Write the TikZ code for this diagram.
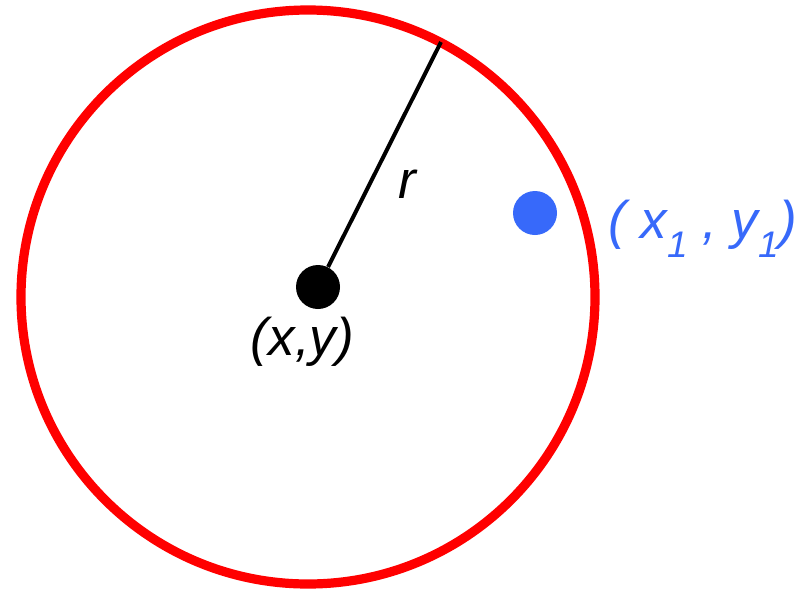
\documentclass[tikz,border=0pt]{standalone}
\usepackage{fontspec}
\setmainfont{Liberation Sans}
\usetikzlibrary{positioning}
\definecolor{RimRed}{RGB}{255,0,0}
\definecolor{PointBlue}{RGB}{55,105,250}

\begin{document}
\begin{tikzpicture}[x=0.5pt,y=-0.5pt,
  lbl/.style={inner sep=0pt,anchor=base,font=\fontsize{26.5}{30}\selectfont\itshape},
  dot/.style={circle,inner sep=0pt,minimum size=22pt}]
\useasboundingbox (0,0) rectangle (804,590);
\fill[white] (0,0) rectangle (804,590);
\coordinate (c) at (308,297);
\coordinate (rim) at (441,42);
\draw[RimRed,line width=4.6pt] (c) circle[radius=143.5pt];
\node[dot,fill=black] (xy) at (318,287) {};
\node[dot,fill=PointBlue] (p1) at (535,213) {};
\draw[line width=2pt] (xy)--(rim);
\node[lbl] (rlab) at (407.5,198) {r};
\node[lbl] (xylab) at (302.5,355) {(x,y)};
\newcommand{\subone}{\raisebox{-9.5pt}{\fontsize{18.5}{20}\selectfont 1}}
\node[lbl,text=PointBlue] (p1lab) at (702.5,238) {( x\subone{} , y\subone{})};
\end{tikzpicture}
\end{document}
